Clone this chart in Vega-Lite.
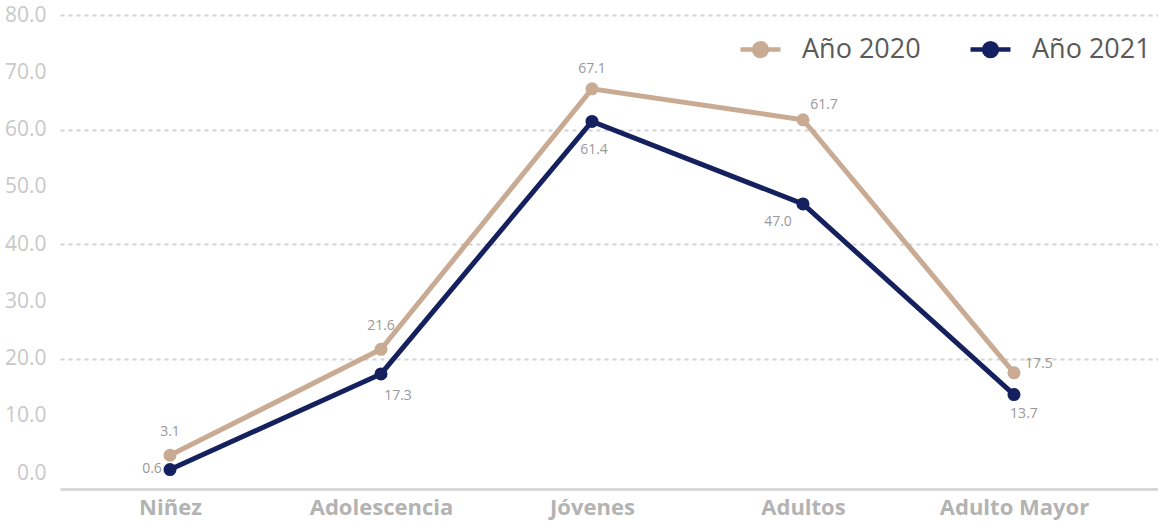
{
  "$schema": "https://vega.github.io/schema/vega-lite/v6.json",
  "width": 1098,
  "height": 458,
  "autosize": "none",
  "padding": {"left": 60, "top": 15, "right": 0, "bottom": 50},
  "background": "white",
  "config": {"view": {"stroke": null}, "font": "Open Sans"},
  "data": {
    "values": [
      {"grupo": "Niñez", "serie": "Año 2020", "valor": 3.1},
      {"grupo": "Adolescencia", "serie": "Año 2020", "valor": 21.6},
      {"grupo": "Jóvenes", "serie": "Año 2020", "valor": 67.1},
      {"grupo": "Adultos", "serie": "Año 2020", "valor": 61.7},
      {"grupo": "Adulto Mayor", "serie": "Año 2020", "valor": 17.5},
      {"grupo": "Niñez", "serie": "Año 2021", "valor": 0.6},
      {"grupo": "Adolescencia", "serie": "Año 2021", "valor": 17.3},
      {"grupo": "Jóvenes", "serie": "Año 2021", "valor": 61.4},
      {"grupo": "Adultos", "serie": "Año 2021", "valor": 47.0},
      {"grupo": "Adulto Mayor", "serie": "Año 2021", "valor": 13.7}
    ]
  },
  "encoding": {
    "x": {
      "field": "grupo", "type": "nominal",
      "sort": ["Niñez", "Adolescencia", "Jóvenes", "Adultos", "Adulto Mayor"],
      "scale": {"type": "point", "padding": 0.602, "align": 0.433},
      "axis": {
        "title": null, "offset": 16, "domainColor": "#d9d9d9", "domainWidth": 3,
        "ticks": false, "grid": false, "labelAngle": 0,
        "labelFont": "Open Sans", "labelFontWeight": "bold", "labelColor": "#b3b3b3",
        "labelFontSize": 22, "labelPadding": 8
      }
    },
    "y": {
      "field": "valor", "type": "quantitative",
      "scale": {"domain": [0, 80], "nice": false},
      "axis": {
        "title": null, "values": [0, 10, 20, 30, 40, 50, 60, 70, 80],
        "format": ".1f", "domain": false, "ticks": false,
        "labelColor": "#c8c8c8", "labelFontSize": 21, "labelPadding": 14,
        "labelFont": "Open Sans",
        "gridColor": "#d3d3d3", "gridDash": [4, 4], "gridWidth": 2,
        "gridOpacity": {"condition": {"test": "datum.value % 20 === 0 && datum.value > 0", "value": 1}, "value": 0}
      }
    }
  },
  "layer": [
    {
      "mark": {"type": "line", "strokeWidth": 5, "point": {"size": 170, "filled": true, "opacity": 1}},
      "encoding": {
        "color": {
          "field": "serie", "type": "nominal",
          "scale": {"domain": ["Año 2020", "Año 2021"], "range": ["#c9aa92", "#15215f"]},
          "legend": {
            "title": null, "orient": "none", "direction": "horizontal",
            "legendX": 678, "legendY": 12,
            "symbolType": "M -1 0 L -0.3 0 M 0.3 0 L 1 0 M 0.32 0 A 0.32 0.32 0 1 1 -0.32 0 A 0.32 0.32 0 1 1 0.32 0",
            "symbolSize": 1600, "symbolStrokeWidth": 4.5, "symbolFillColor": null,
            "labelFontSize": 27, "labelColor": "#5a5a5a", "labelFont": "Open Sans",
            "columnPadding": 40, "labelOffset": 19
          }
        }
      }
    },
    {
      "transform": [{"filter": "datum.serie === 'Año 2020' && (datum.grupo === 'Niñez' || datum.grupo === 'Adolescencia')"}],
      "mark": {"type": "text", "dy": -23, "fontSize": 14, "fill": "#999999"},
      "encoding": {"text": {"field": "valor", "format": ".1f"}}
    },
    {
      "transform": [{"filter": "datum.serie === 'Año 2020' && datum.grupo === 'Jóvenes'"}],
      "mark": {"type": "text", "dy": -20, "fontSize": 14, "fill": "#999999"},
      "encoding": {"text": {"field": "valor", "format": ".1f"}}
    },
    {
      "transform": [{"filter": "datum.serie === 'Año 2020' && (datum.grupo === 'Adultos')"}],
      "mark": {"type": "text", "dx": 21, "dy": -15, "fontSize": 14, "fill": "#999999"},
      "encoding": {"text": {"field": "valor", "format": ".1f"}}
    },
    {
      "transform": [{"filter": "datum.serie === 'Año 2020' && (datum.grupo === 'Adulto Mayor')"}],
      "mark": {"type": "text", "dx": 25, "dy": -9, "fontSize": 14, "fill": "#999999"},
      "encoding": {"text": {"field": "valor", "format": ".1f"}}
    },
    {
      "transform": [{"filter": "datum.serie === 'Año 2021' && datum.grupo === 'Niñez'"}],
      "mark": {"type": "text", "dx": -18, "dy": -1, "fontSize": 14, "fill": "#999999"},
      "encoding": {"text": {"field": "valor", "format": ".1f"}}
    },
    {
      "transform": [{"filter": "datum.serie === 'Año 2021' && datum.grupo === 'Adolescencia'"}],
      "mark": {"type": "text", "dx": 17, "dy": 22, "fontSize": 14, "fill": "#999999"},
      "encoding": {"text": {"field": "valor", "format": ".1f"}}
    },
    {
      "transform": [{"filter": "datum.serie === 'Año 2021' && datum.grupo === 'Jóvenes'"}],
      "mark": {"type": "text", "dx": 2, "dy": 29, "fontSize": 14, "fill": "#999999"},
      "encoding": {"text": {"field": "valor", "format": ".1f"}}
    },
    {
      "transform": [{"filter": "datum.serie === 'Año 2021' && datum.grupo === 'Adultos'"}],
      "mark": {"type": "text", "dx": -25, "dy": 18, "fontSize": 14, "fill": "#999999"},
      "encoding": {"text": {"field": "valor", "format": ".1f"}}
    },
    {
      "transform": [{"filter": "datum.serie === 'Año 2021' && datum.grupo === 'Adulto Mayor'"}],
      "mark": {"type": "text", "dx": 10, "dy": 19, "fontSize": 14, "fill": "#999999"},
      "encoding": {"text": {"field": "valor", "format": ".1f"}}
    }
  ]
}
